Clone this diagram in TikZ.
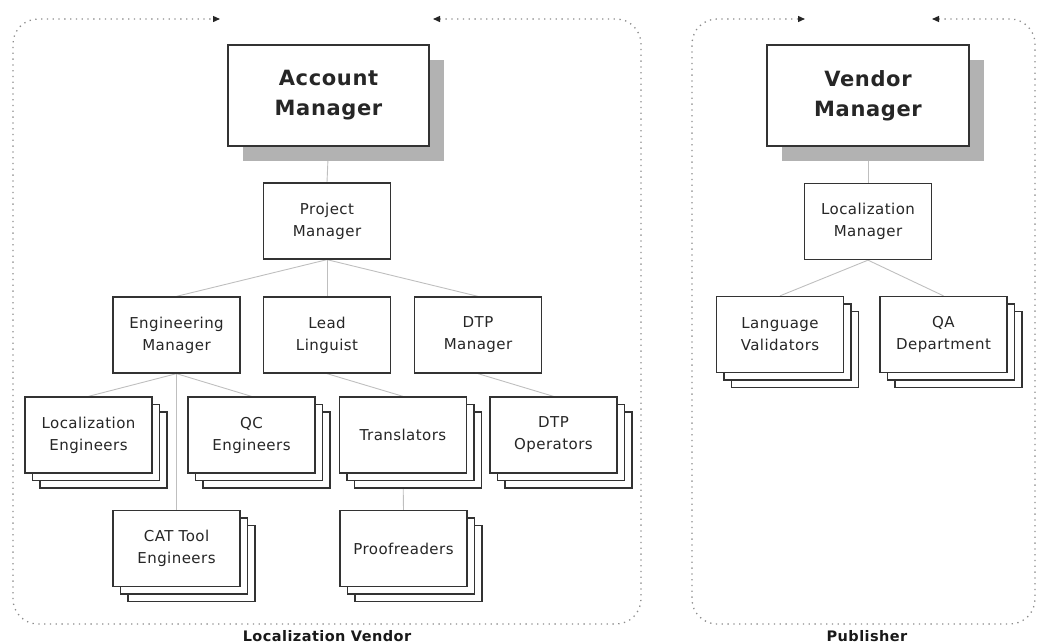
\documentclass[tikz,border=0pt]{standalone}
\usepackage{fontspec}
\setmainfont{DejaVu Sans}[LetterSpace=3]
\usetikzlibrary{shadows,arrows.meta}
\pgfdeclarelayer{bg}
\pgfsetlayers{bg,main}
\begin{document}
\begin{tikzpicture}[x=1pt,y=-1pt,
  box/.style={draw=black!80, line width=1.3pt, fill=white, inner sep=0pt, align=center,
    font=\fontsize{15}{22}\selectfont, text=black!85},
  bigbox/.style={box, font=\fontsize{21}{30}\selectfont\bfseries,
    drop shadow={shadow xshift=15pt, shadow yshift=-15pt, fill=black!30, opacity=1}},
  smallbox/.style={box, minimum width=127pt, minimum height=76pt},
  stackbox/.style={smallbox, double copy shadow={shadow xshift=7.5pt, shadow yshift=-7.5pt}},
  link/.style={draw=black!25, line width=0.9pt},
  tipA/.tip={Triangle[length=7pt,width=6pt,color=black!85]},
  frame/.style={draw=black!45, line width=1.3pt, dash pattern=on 1.3pt off 4.5pt,
    rounded corners=25pt, tipA-tipA},
  framelabel/.style={font=\fontsize{14.5}{16}\selectfont\bfseries, text=black!90, inner sep=0pt}
]
\useasboundingbox (0,0) rectangle (1037,643);

% containers
\draw[frame] (433,19) -- (641,19) -- (641,624) -- (13,624) -- (13,19) -- (220,19);
\draw[frame] (932,19) -- (1035,19) -- (1035,624) -- (692,624) -- (692,19) -- (805,19);
\node[framelabel] (lvlabel) at (327,636) {Localization Vendor};
\node[framelabel] (publabel) at (867,636) {Publisher};

% top managers
\node[bigbox, minimum width=201pt, minimum height=101pt] (am) at (328.5,95.5) {Account\\Manager};
\node[bigbox, minimum width=202pt, minimum height=101pt] (vm) at (868,95.5) {Vendor\\Manager};

% second level
\node[smallbox] (pm) at (327,221) {Project\\Manager};
\node[smallbox] (lm) at (868,221.5) {Localization\\Manager};

% third level
\node[smallbox] (em) at (176.5,335) {Engineering\\Manager};
\node[smallbox] (ll) at (327,335) {Lead\\Linguist};
\node[smallbox] (dm) at (478,335) {DTP\\Manager};
\node[stackbox] (lv) at (780,334.5) {Language\\Validators};
\node[stackbox] (qa) at (943.5,334.5) {QA\\Department};

% stacked teams
\node[stackbox] (le) at (88.5,435) {Localization\\Engineers};
\node[stackbox] (qc) at (251.5,435) {QC\\Engineers};
\node[stackbox] (tr) at (403,435) {Translators};
\node[stackbox] (do) at (553.5,435) {DTP\\Operators};
\node[stackbox] (ct) at (176.5,548.5) {CAT Tool\\Engineers};
\node[stackbox] (pr) at (403.5,548.5) {Proofreaders};

% connectors
\begin{pgfonlayer}{bg}
\draw[link] (am.south) -- (pm.north);
\draw[link] (pm.south) -- (em.north);
\draw[link] (pm.south) -- (ll.north);
\draw[link] (pm.south) -- (dm.north);
\draw[link] (em.south) -- (le.north);
\draw[link] (em.south) -- (qc.north);
\draw[link] (em.south) -- (ct.north);
\draw[link] (ll.south) -- (tr.north);
\draw[link] (dm.south) -- (do.north);
\draw[link] (tr.south) -- (pr.north);
\draw[link] (vm.south) -- (lm.north);
\draw[link] (lm.south) -- (lv.north);
\draw[link] (lm.south) -- (qa.north);
\end{pgfonlayer}
\end{tikzpicture}
\end{document}
